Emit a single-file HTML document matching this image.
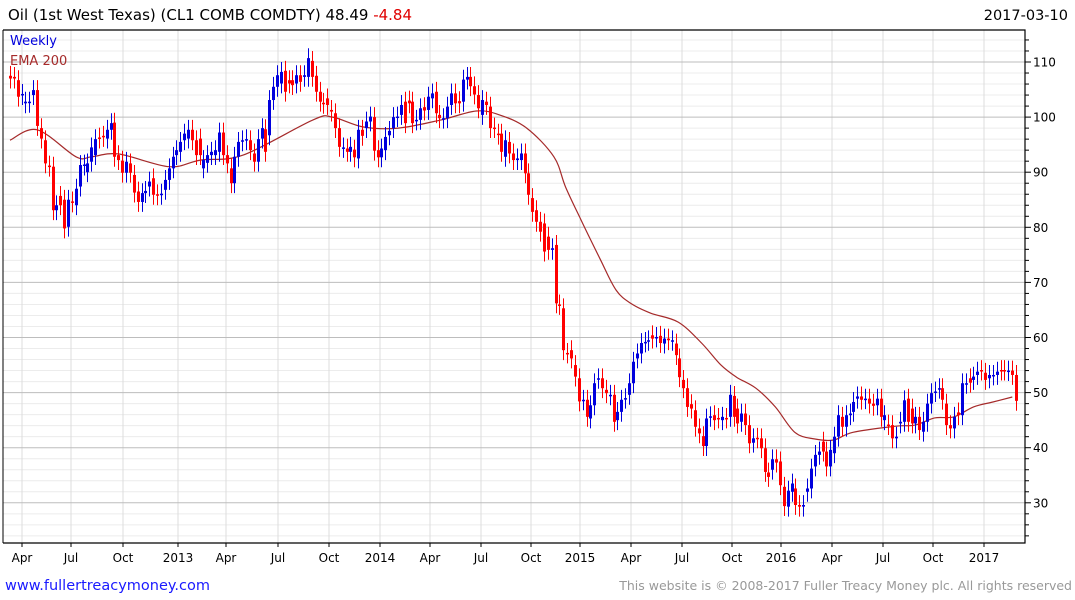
<!DOCTYPE html>
<html><head><meta charset="utf-8">
<style>
body{margin:0;background:#fff;width:1075px;height:600px;overflow:hidden;font-family:"DejaVu Sans","Liberation Sans",sans-serif;}
svg{display:block}
</style></head>
<body>
<svg id="chart" width="1075" height="600" xmlns="http://www.w3.org/2000/svg">
<text x="8" y="20" font-size="15" fill="#000">Oil (1st West Texas) (CL1 COMB COMDTY) 48.49 <tspan fill="#e00000">-4.84</tspan></text>
<text x="1068" y="20" font-size="14.5" fill="#000" text-anchor="end">2017-03-10</text>
<g id="grid"></g>
<g id="ema"></g>
<g id="candles"></g>
<g id="axes"></g>
<text x="10" y="45" font-size="13" fill="#0000dd">Weekly</text>
<text x="10" y="65" font-size="13" fill="#a52a2a">EMA 200</text>
<text x="5" y="590" font-size="14.5" fill="#1a1aff">www.fullertreacymoney.com</text>
<text x="1072" y="590" font-size="12.5" fill="#999" text-anchor="end">This website is © 2008-2017 Fuller Treacy Money plc. All rights reserved</text>
</svg>
<script>
const opens=[107.5,107.3,106.7,104,102.5,102.6,104,104.9,98,95.8,91.2,91,83.1,85.7,85,80.1,84.7,84,87.4,91.2,90,91.9,93.1,96.3,96.6,96.1,97.7,99,93.1,92.1,89.9,91.6,89.5,86.5,84.6,86.2,87.4,88.9,86,85.9,86.8,88.6,90.7,93.1,93.7,95.8,96.1,97.7,95.8,96.1,90.7,91.7,93.1,93.1,93.7,97.2,93.1,90.7,88,92.8,95.6,95.8,95.8,93.4,91.9,96.1,97.8,96.7,103.1,105.5,106.1,108.4,106.7,106.7,106.1,107.6,107.3,107.3,110.2,107.5,104.6,102.6,103.4,101.3,100.7,98,94.4,94.3,93.7,94.1,92.5,97.7,98,99.2,100,94,92.7,94,96.7,98,100,100.4,102.8,103,102.8,99.4,99.5,101.8,101.3,103.4,104.6,100.4,99.7,99.8,102.2,104.3,102.9,102.8,106.8,107.3,105.6,104,100.4,102.8,101.9,98.1,97,97,92.8,95.5,93.4,92.2,92.2,93.4,89.8,85.3,83.1,81,80.7,78.3,75.9,76.8,66,65.3,57.2,57.7,55,52.6,48.6,48.7,45.3,47.7,52.5,52.6,50.5,49.5,49.6,45,46.5,48.9,49.6,51.7,56.2,57.1,59.1,59.4,60.4,60,60.3,58.9,59.8,59.4,58.9,56.2,52.3,50.8,47.9,46.8,43.5,42.1,40.3,45.6,45.9,45.4,45,45.4,45.6,49.4,47.1,44.7,46.2,44.1,40.9,41.8,41.7,39.9,35.5,36,37.9,37.5,32.9,29.3,32,32.6,29.6,29.3,32,32.6,36.6,38.7,41.1,39.3,36.6,39,42,45.6,43.8,45.9,46.5,48.9,49.3,48.8,48.9,48,47.7,48.9,45,44.2,44.1,41.7,44.4,44.7,48.9,47.1,44.4,45.6,42.9,44.7,48,50.1,50.7,50.8,48,44.1,43.5,46.4,45.9,51.6,52.6,52.3,53.2,54.1,53.6,52.6,53.1,53.2,54.1,54.1,53.9,54,53.2];
const closes=[107,107,103.7,104.2,102.8,102.8,104.9,98.4,96.1,91.6,91,83.1,84,84,79.8,85,84.5,87,91.3,91.4,91.6,94.5,96,96.1,96.4,97.7,98.9,92.8,92.2,89.9,91.9,89.9,86.3,84.6,86.2,86.6,88.3,85.9,85.8,86.1,88.6,90.7,92.8,94,95.5,97,97.7,95.8,93.1,93.1,92.2,93.1,93.7,94,97.2,93.1,91.6,88,92.8,95.5,95.8,96,94,91.9,96,98,93.7,103.1,105.5,107.6,108.2,104.6,106.1,105.8,107.6,106.4,107.6,110.7,107.3,104.6,102.8,102.4,102.2,101,98,94.6,94.5,93.7,94.6,92.7,97.7,96.6,99.2,100.1,93.9,92.7,94.3,96.4,97.5,100,100.1,102.2,98.9,102.5,98.9,99.5,101.6,101.2,103.7,104.3,100.7,99.8,99.8,101.9,104.3,102.5,102.5,106.8,107.3,105.6,104.1,101.6,103.1,102.2,98,98,96.8,93.7,95.8,93.4,92.2,92.5,93.4,89.8,85.9,82.8,81,79.2,75.6,75.9,76.2,66.2,65.9,57.7,57.1,56.2,52.9,48.4,48.7,45.6,47.7,51.7,52.6,50.8,49.9,49.6,44.7,46.5,48.7,49,51.7,55.6,57.1,59,59.2,59.5,59.8,60.1,59,59.8,59.5,59.5,56.8,52.8,50.8,47.4,47.1,43.8,42.6,40.3,45.3,45.7,45,45.3,45.6,45.3,49.6,45.6,44.4,46.2,44.1,40.8,41.7,41.7,39.9,35.6,34.7,37.9,37.3,33.2,29.4,32.2,33.5,29.6,29.3,29.6,32.6,36.2,38.7,39.3,39.3,36.6,39.6,42,45.9,43.8,45.9,46.2,48.3,49.3,48.7,48.9,48,47.6,48.9,45.6,45.9,44.1,41.7,42,44.7,48.6,44.7,44.4,45.6,43.2,44.7,48,49.9,50.2,50.8,48.7,44.1,43.5,45.6,45.9,51.7,51.7,51.8,52.9,53.8,54,52.3,53.2,53.2,53.8,54,54,54,53.2,48.5];
const wick=[1.8];
const emaWeek=[0,7,17,21,28,41,49,60,78,83,91,100,111,120,126,133,140,143,147,152,156,160,165,172,178,183,187,192,197,202,207,212,217,228,233,238,243,248,253,258];
const emaVals=[95.8,97.7,92.8,92.8,93.3,91,92.2,93.1,99.5,100,98.2,98,99.5,101.1,100.4,98,92.8,87.3,81.3,74.1,68.6,66.1,64.4,62.8,59,55,52.8,50.8,47.4,42.8,41.6,41.4,42.8,43.9,44.1,45.4,45.6,47.4,48.3,49.2];
const yTicks=[30,40,50,60,70,80,90,100,110];
const xLabels=["Apr","Jul","Oct","2013","Apr","Jul","Oct","2014","Apr","Jul","Oct","2015","Apr","Jul","Oct","2016","Apr","Jul","Oct","2017"];
const xLabelPos=[22,71,123,178,226,278,329,380,430,481,531,580,631,682,732,781,832,883,933,984];

const NS="http://www.w3.org/2000/svg";
const L=3,R=1025,T=30,B=543;
const n=closes.length;
function X(i){return 10+i*(1016-10)/(n-1);}
function XW(w){return 10+w*3.885;}
function Y(v){return 62+(110-v)*5.51;}
function mk(tag,attrs,parent){const e=document.createElementNS(NS,tag);for(const k in attrs)e.setAttribute(k,attrs[k]);parent.appendChild(e);return e;}
const grid=document.getElementById('grid'),axes=document.getElementById('axes'),cg=document.getElementById('candles'),eg=document.getElementById('ema');
for(let v=24;v<=114;v+=2){const y=Y(v);if(y<T||y>B)continue;if(v%10===0)continue;
 const l=mk('line',{x1:L,x2:R,y1:y,y2:y,stroke:'#ececec','stroke-width':1},grid);
 
 }
xLabelPos.forEach((x,i)=>{const l=mk('line',{x1:x,x2:x,y1:T,y2:B,stroke:'#dcdcdc','stroke-width':1},grid);
 
 
 const t=mk('text',{x:x,y:562,'font-size':12,'text-anchor':'middle',fill:'#000'},axes);t.textContent=xLabels[i];
 
 
 mk('line',{x1:x,x2:x,y1:B,y2:B+4,stroke:'#000'},axes);});
yTicks.forEach(v=>{const y=Y(v);const l=mk('line',{x1:L,x2:R,y1:y,y2:y,stroke:'#bdbdbd','stroke-width':1},grid);
 
 
 const t=mk('text',{x:1033,y:y+4.5,'font-size':12,fill:'#000'},axes);t.textContent=v;
 
 });
for(let v=24;v<=114;v+=2){const y=Y(v);if(y<T||y>B)continue;mk('line',{x1:R,x2:R+(v%10===0?6:4),y1:y,y2:y,stroke:'#000'},axes);}
mk('polyline',{points:`${L},${T} ${R},${T} ${R},${B} ${L},${B}`,fill:'none',stroke:'#000','stroke-width':1.2},axes);
mk('line',{x1:L,x2:L,y1:T,y2:B,stroke:'#000','stroke-width':1},axes);
const P=emaWeek.map((w,i)=>[XW(w),Y(emaVals[i])]);
let d='M'+P[0][0].toFixed(1)+','+P[0][1].toFixed(1);
for(let i=0;i<P.length-1;i++){const p0=P[Math.max(0,i-1)],p1=P[i],p2=P[i+1],p3=P[Math.min(P.length-1,i+2)];
 const c1=[p1[0]+(p2[0]-p0[0])/6,p1[1]+(p2[1]-p0[1])/6],c2=[p2[0]-(p3[0]-p1[0])/6,p2[1]-(p3[1]-p1[1])/6];
 d+=` C${c1[0].toFixed(1)},${c1[1].toFixed(1)} ${c2[0].toFixed(1)},${c2[1].toFixed(1)} ${p2[0].toFixed(1)},${p2[1].toFixed(1)}`;}
const pl=mk('path',{d:d,fill:'none',stroke:'#a52a2a','stroke-width':1.2},eg);


for(let i=0;i<n;i++){const o=opens[i],c=closes[i];const up=c>o;const col=up?'#0000dd':'#ff0000';
 const hi=Math.max(o,c)+wick[0],lo=Math.min(o,c)-wick[0];const x=Math.round(X(i))+0.5;
 const g=mk('g',{},cg);
 
 
 mk('line',{x1:x,x2:x,y1:Y(hi),y2:Y(lo),stroke:col,'stroke-width':1},g);
 const yt=Y(Math.max(o,c)),yb=Y(Math.min(o,c));
 mk('rect',{x:x-1.5,y:yt,width:3,height:Math.max(1.5,yb-yt),fill:col},g);}
</script>
</body></html>
